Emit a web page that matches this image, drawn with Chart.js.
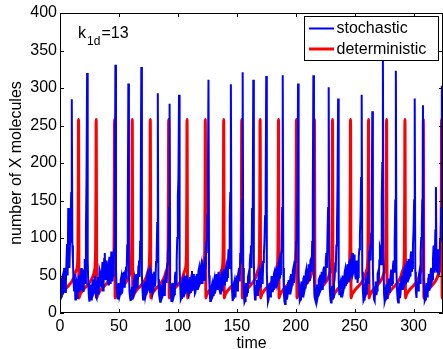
<!DOCTYPE html>
<html>
<head>
<meta charset="utf-8">
<script src="https://cdn.jsdelivr.net/npm/chart.js@4.4.0/dist/chart.umd.min.js"></script>
<style>
  html, body { margin: 0; padding: 0; background: #fff; overflow: hidden; }
  canvas { display: block; }
</style>
</head>
<body>
<canvas id="chart" width="443" height="349"></canvas>
<script>
// stochastic run, one sample per time unit (t = 0..325)
const stochasticValues = [
  35, 22, 48, 30, 55, 40, 92, 140, 60, 120,
  285, 70, 30, 18, 42, 25, 50, 33, 60, 45,
  28, 72, 110, 320, 40, 15, 30, 22, 45, 28,
  38, 20, 48, 30, 55, 35, 68, 42, 80, 50,
  62, 38, 75, 45, 66, 50, 85, 331, 35, 18,
  40, 25, 48, 30, 55, 38, 62, 90, 306, 28,
  16, 35, 24, 46, 30, 52, 40, 70, 95, 328,
  30, 20, 42, 26, 50, 32, 58, 38, 48, 30,
  55, 42, 75, 293, 25, 15, 38, 22, 45, 30,
  52, 65, 88, 279, 30, 18, 40, 25, 55, 70,
  155, 291, 35, 20, 42, 26, 50, 30, 44, 24,
  48, 32, 56, 36, 45, 28, 52, 34, 60, 40,
  66, 45, 58, 75, 95, 130, 311, 28, 18, 38,
  24, 46, 30, 52, 36, 44, 26, 50, 34, 58,
  40, 62, 48, 85, 127, 305, 30, 20, 42, 28,
  50, 36, 60, 80, 110, 321, 25, 16, 40, 28,
  52, 65, 90, 140, 311, 30, 20, 44, 28, 54,
  36, 60, 45, 78, 129, 316, 28, 18, 40, 26,
  48, 32, 55, 38, 62, 44, 70, 52, 85, 317,
  25, 12, 36, 22, 44, 30, 52, 38, 60, 48,
  75, 110, 306, 28, 18, 42, 26, 50, 34, 58,
  40, 65, 48, 72, 95, 317, 26, 15, 38, 24,
  46, 30, 55, 36, 62, 45, 80, 105, 301, 30,
  14, 36, 22, 45, 60, 110, 286, 25, 40, 28,
  50, 34, 58, 40, 65, 46, 72, 50, 80, 55,
  68, 45, 62, 48, 85, 130, 291, 30, 18, 40,
  26, 55, 68, 90, 106, 269, 28, 16, 42, 30,
  55, 70, 85, 150, 344, 25, 18, 38, 24, 46,
  32, 58, 40, 70, 95, 323, 30, 14, 40, 26,
  50, 34, 58, 40, 65, 45, 72, 50, 82, 60,
  110, 286, 28, 42, 30, 55, 80, 115, 277, 25,
  18, 40, 28, 52, 36, 60, 45, 90, 70, 168,
  55, 85, 62, 95, 303, 290
];
// stochastic run, the samples in between (t = 0.5..324.5)
const stochasticMid = [
  18, 45, 25, 60, 28, 70, 50, 75, 95, 160,
  90, 40, 52, 38, 20, 44, 28, 52, 30, 58,
  50, 40, 180, 70, 22, 38, 18, 40, 26, 50,
  22, 42, 26, 58, 40, 50, 30, 72, 45, 70,
  45, 68, 40, 82, 42, 72, 120, 60, 25, 38,
  22, 44, 26, 52, 35, 56, 45, 130, 55, 20,
  30, 18, 42, 28, 50, 34, 62, 48, 150, 50,
  18, 38, 22, 46, 30, 55, 28, 52, 26, 50,
  35, 68, 120, 45, 20, 32, 20, 42, 24, 48,
  40, 80, 140, 40, 16, 35, 22, 48, 38, 100,
  180, 60, 18, 38, 22, 46, 28, 50, 26, 42,
  28, 50, 30, 52, 26, 48, 32, 56, 38, 62,
  40, 62, 44, 58, 80, 180, 50, 16, 34, 22,
  42, 26, 50, 32, 55, 30, 46, 30, 54, 38,
  58, 42, 66, 60, 160, 55, 16, 38, 22, 46,
  30, 55, 42, 65, 150, 60, 14, 34, 22, 48,
  40, 78, 60, 110, 70, 18, 36, 24, 50, 34,
  56, 40, 68, 95, 160, 55, 15, 36, 22, 48,
  28, 52, 34, 58, 40, 66, 46, 78, 140, 60,
  15, 30, 18, 40, 26, 48, 34, 56, 40, 68,
  95, 160, 50, 16, 36, 22, 46, 30, 54, 40,
  58, 44, 70, 55, 150, 50, 18, 32, 20, 44,
  28, 50, 32, 58, 40, 70, 60, 140, 60, 18,
  30, 18, 40, 62, 90, 170, 45, 36, 22, 46,
  30, 54, 36, 60, 42, 68, 48, 75, 52, 78,
  50, 70, 40, 75, 105, 180, 55, 16, 36, 24,
  45, 40, 82, 70, 140, 60, 18, 34, 24, 52,
  40, 88, 65, 200, 70, 15, 32, 20, 42, 28,
  50, 36, 62, 55, 150, 55, 18, 30, 20, 46,
  32, 55, 38, 62, 42, 68, 48, 76, 55, 90,
  150, 55, 20, 36, 50, 40, 100, 150, 50, 16,
  34, 22, 46, 30, 55, 42, 72, 55, 110, 60,
  75, 50, 100, 140, 200
];

// deterministic solution, sampled by hand along each cycle
const detTime = [
  0, 1, 2, 4, 7, 10, 12, 13.5, 14.9, 15.25, 15.5,
  15.7, 16.2, 16.7, 17.7, 19.7, 22.7, 25.7, 27.7, 29.2, 29.9, 30.25, 30.5,
  30.7, 31.2, 31.7, 32.7, 34.7, 37.7, 40.7, 42.7, 44.2, 45.5, 45.85, 46.1,
  46.3, 46.8, 47.3, 48.3, 50.3, 53.3, 56.3, 58.3, 59.8, 60.5, 60.85, 61.1,
  61.3, 61.8, 62.3, 63.3, 65.3, 68.3, 71.3, 73.3, 74.8, 75.8, 76.15, 76.4,
  76.6, 77.1, 77.6, 78.6, 80.6, 83.6, 86.6, 88.6, 90.1, 91.4, 91.75, 92.0,
  92.2, 92.7, 93.2, 94.2, 96.2, 99.2, 102.2, 104.2, 105.7, 107.0, 107.35, 107.6,
  107.8, 108.3, 108.8, 109.8, 111.8, 114.8, 117.8, 119.8, 121.3, 122.5, 122.85, 123.1,
  123.3, 123.8, 124.3, 125.3, 127.3, 130.3, 133.3, 135.3, 136.8, 138.1, 138.45, 138.7,
  138.9, 139.4, 139.9, 140.9, 142.9, 145.9, 148.9, 150.9, 152.4, 153.4, 153.75, 154.0,
  154.2, 154.7, 155.2, 156.2, 158.2, 161.2, 164.2, 166.2, 167.7, 169.0, 169.35, 169.6,
  169.8, 170.3, 170.8, 171.8, 173.8, 176.8, 179.8, 181.8, 183.3, 184.6, 184.95, 185.2,
  185.4, 185.9, 186.4, 187.4, 189.4, 192.4, 195.4, 197.4, 198.9, 199.8, 200.15, 200.4,
  200.6, 201.1, 201.6, 202.6, 204.6, 207.6, 210.6, 212.6, 214.1, 215.1, 215.45, 215.7,
  215.9, 216.4, 216.9, 217.9, 219.9, 222.9, 225.9, 227.9, 229.4, 230.4, 230.75, 231.0,
  231.2, 231.7, 232.2, 233.2, 235.2, 238.2, 241.2, 243.2, 244.7, 245.7, 246.05, 246.3,
  246.5, 247.0, 247.5, 248.5, 250.5, 253.5, 256.5, 258.5, 260.0, 261.0, 261.35, 261.6,
  261.8, 262.3, 262.8, 263.8, 265.8, 268.8, 271.8, 273.8, 275.3, 276.3, 276.65, 276.9,
  277.1, 277.6, 278.1, 279.1, 281.1, 284.1, 287.1, 289.1, 290.6, 291.9, 292.25, 292.5,
  292.7, 293.2, 293.7, 294.7, 296.7, 299.7, 302.7, 304.7, 306.2, 307.5, 307.85, 308.1,
  308.3, 308.8, 309.3, 310.3, 312.3, 315.3, 318.3, 320.3, 321.8, 323.0, 323.35, 323.6,
  323.8, 324.3, 324.8
];
const detValues = [
  20, 23, 26.5, 31, 36, 42, 48, 56, 66, 90, 160,
  258, 20, 23, 26.5, 31, 36, 42, 48, 56, 66, 90, 160,
  258, 20, 23, 26.5, 31, 36, 42, 48, 56, 66, 90, 160,
  258, 20, 23, 26.5, 31, 36, 42, 48, 56, 66, 90, 160,
  258, 20, 23, 26.5, 31, 36, 42, 48, 56, 66, 90, 160,
  258, 20, 23, 26.5, 31, 36, 42, 48, 56, 66, 90, 160,
  258, 20, 23, 26.5, 31, 36, 42, 48, 56, 66, 90, 160,
  258, 20, 23, 26.5, 31, 36, 42, 48, 56, 66, 90, 160,
  258, 20, 23, 26.5, 31, 36, 42, 48, 56, 66, 90, 160,
  258, 20, 23, 26.5, 31, 36, 42, 48, 56, 66, 90, 160,
  258, 20, 23, 26.5, 31, 36, 42, 48, 56, 66, 90, 160,
  258, 20, 23, 26.5, 31, 36, 42, 48, 56, 66, 90, 160,
  258, 20, 23, 26.5, 31, 36, 42, 48, 56, 66, 90, 160,
  258, 20, 23, 26.5, 31, 36, 42, 48, 56, 66, 90, 160,
  258, 20, 23, 26.5, 31, 36, 42, 48, 56, 66, 90, 160,
  258, 20, 23, 26.5, 31, 36, 42, 48, 56, 66, 90, 160,
  258, 20, 23, 26.5, 31, 36, 42, 48, 56, 66, 90, 160,
  258, 20, 23, 26.5, 31, 36, 42, 48, 56, 66, 90, 160,
  258, 20, 23, 26.5, 31, 36, 42, 48, 56, 66, 90, 160,
  258, 20, 23, 26.5, 31, 36, 42, 48, 56, 66, 90, 160,
  258, 20, 23, 26.5, 31, 36, 42, 48, 56, 66, 90, 160,
  258, 20, 23
];

const xTickValues = [0, 50, 100, 150, 200, 250, 300];
const yTickValues = [0, 50, 100, 150, 200, 250, 300, 350, 400];

const FONT = '"Liberation Sans", Arial, Helvetica, sans-serif';
Chart.defaults.color = '#000';
Chart.defaults.font.family = FONT;

// interleave whole-unit and half-unit samples
const stochasticPoints = [];
stochasticValues.forEach((v, i) => {
  stochasticPoints.push({ x: i, y: v });
  if (i < stochasticMid.length) stochasticPoints.push({ x: i + 0.5, y: stochasticMid[i] });
});

// matlab-ish box: inward ticks on all four sides, legend box and the k label
const boxPlugin = {
  id: 'boxPlugin',
  afterDraw(chart) {
    const ctx = chart.ctx;
    const a = chart.chartArea;
    const xs = chart.scales.x, ys = chart.scales.y;
    ctx.save();
    ctx.strokeStyle = '#000';
    ctx.lineWidth = 1;
    ctx.beginPath();
    ctx.rect(a.left + 0.5, a.top + 0.5, a.right - a.left - 1, a.bottom - a.top - 1);
    xs.ticks.forEach(t => {
      const px = Math.round(xs.getPixelForValue(t.value)) + 0.5;
      ctx.moveTo(px, a.bottom); ctx.lineTo(px, a.bottom - 4);
      ctx.moveTo(px, a.top); ctx.lineTo(px, a.top + 4);
    });
    ys.ticks.forEach(t => {
      const py = Math.round(ys.getPixelForValue(t.value)) + 0.5;
      ctx.moveTo(a.left, py); ctx.lineTo(a.left + 4, py);
      ctx.moveTo(a.right, py); ctx.lineTo(a.right - 4, py);
    });
    ctx.stroke();

    // legend
    const ds = chart.data.datasets;
    ctx.fillStyle = '#fff';
    ctx.fillRect(304, 16, 134, 45);
    ctx.strokeRect(304.5, 16.5, 134, 44);
    ctx.font = '16px ' + FONT;
    ctx.textBaseline = 'middle';
    ctx.textAlign = 'left';
    [[28.5, 0], [49, 1]].forEach(([ly, i]) => {
      ctx.strokeStyle = ds[i].borderColor;
      ctx.lineWidth = ds[i].borderWidth;
      ctx.beginPath();
      ctx.moveTo(309, ly); ctx.lineTo(334, ly);
      ctx.stroke();
      ctx.fillStyle = '#000';
      ctx.fillText(ds[i].label, 336.5, ly + 0.5);
    });

    // k_1d = 13
    ctx.textBaseline = 'alphabetic';
    ctx.font = '16px ' + FONT;
    ctx.fillText('k', 78, 37.5);
    ctx.font = '12px ' + FONT;
    ctx.fillText('1d', 87, 45);
    ctx.font = '16px ' + FONT;
    ctx.fillText('=13', 101.5, 37.5);
    ctx.restore();
  }
};

new Chart(document.getElementById('chart'), {
  type: 'line',
  data: {
    datasets: [
      {
        label: 'stochastic',
        data: stochasticPoints,
        borderColor: '#0000ff',
        borderWidth: 2,
        pointRadius: 0,
        tension: 0
      },
      {
        label: 'deterministic',
        data: detTime.map((t, i) => ({ x: t, y: detValues[i] })),
        borderColor: '#ff0000',
        borderWidth: 3,
        pointRadius: 0,
        cubicInterpolationMode: 'monotone'
      }
    ]
  },
  options: {
    responsive: false,
    animation: false,
    devicePixelRatio: 1,
    layout: { padding: { top: 13, right: 0, left: 0, bottom: 0 } },
    plugins: { legend: { display: false }, tooltip: { enabled: false } },
    scales: {
      x: {
        type: 'linear',
        min: 0,
        max: 325,
        afterBuildTicks: s => { s.ticks = xTickValues.map(v => ({ value: v })); },
        afterFit: s => { s.height = 36; },
        grid: { display: false, drawTicks: false, tickLength: 0 },
        border: { display: false },
        ticks: { font: { size: 16 }, color: '#000', padding: 4, maxRotation: 0, autoSkip: false },
        title: { display: true, text: 'time', font: { size: 16 }, color: '#000', padding: { top: 0, bottom: -4 } }
      },
      y: {
        min: 0,
        max: 400,
        afterBuildTicks: s => { s.ticks = yTickValues.map(v => ({ value: v })); },
        afterFit: s => { s.width = 60; },
        grid: { display: false, drawTicks: false, tickLength: 0 },
        border: { display: false },
        ticks: { font: { size: 16 }, color: '#000', padding: 3, autoSkip: false },
        title: { display: true, text: 'number of X molecules', font: { size: 16 }, color: '#000', padding: { top: 7, bottom: 0 } }
      }
    }
  },
  plugins: [boxPlugin]
});
</script>
</body>
</html>
